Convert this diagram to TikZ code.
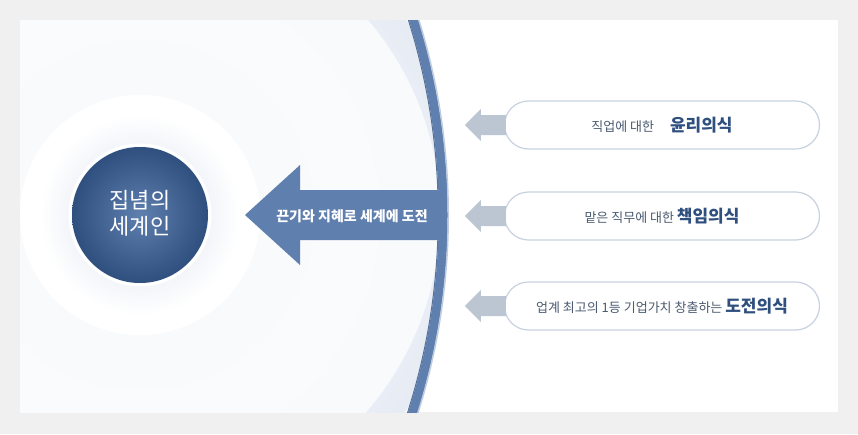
\documentclass[tikz,border=0pt]{standalone}
\usepackage{fontspec}
\setmainfont{Noto Sans CJK KR}
\usetikzlibrary{positioning}
\definecolor{navy}{HTML}{2F4F7F}
\definecolor{ringblue}{HTML}{C9D4E6}
\definecolor{arcblue}{HTML}{5F7FAE}
\definecolor{pillline}{HTML}{C8D1E0}
\definecolor{grayarrow}{HTML}{BCC5D2}
\definecolor{txtgray}{HTML}{4A5A70}
\newcommand{\keyword}[1]{{\fontsize{17}{19}\selectfont\bfseries\color{navy}#1}}
\tikzset{
  pill/.style={draw=pillline, line width=1.2pt, rounded corners=24pt, fill=white,
    minimum width=315pt, minimum height=48pt, text=txtgray, font=\fontsize{13}{15}\selectfont}
}
\begin{document}
\begin{tikzpicture}[x=1pt,y=-1pt]
  \useasboundingbox (0,0) rectangle (858,434);
  \fill[gray!12] (0,0) rectangle (858,434);
  \fill[white] (20,20) rectangle (838,412);

  %rings left of the arc
  \begin{scope}
    \clip (20,20) rectangle (838,412);
    \clip (-208.75,215) circle[radius=648];
    \shade[inner color=white, outer color=ringblue!45] (140,215) circle[radius=330];
    \foreach \r/\c in {300/5,240/8,175/11}{
      \fill[ringblue!\c!white, opacity=0.8] (140,215) circle[radius=\r];
    }
    \fill[white] (140,215) circle[radius=120];
  \end{scope}

  %arc
  \begin{scope}
    \clip (20,20) rectangle (838,412);
    \draw[arcblue, line width=9pt] (-208.75,215) circle[radius=652];
    \draw[arcblue!40, line width=1.5pt] (-208.75,215) circle[radius=657];
    \draw[navy!80, line width=1pt] (-208.75,215) circle[radius=647];
  \end{scope}

  %core circle
  \shade[inner color=ringblue!80, outer color=white] (140,215) circle[radius=100];
  \draw[white, line width=3pt] (140,215) circle[radius=70];
  \shade[inner color=arcblue, outer color=navy] (140,215) circle[radius=68];
  \node[text=white, align=center, font=\fontsize{22}{26}\selectfont] (core) at (140,213) {집념의\\세계인};

  %main arrow
  \fill[arcblue] (440,190) -- (300,190) -- (300,165) -- (245,215) -- (300,265) -- (300,240) -- (440,240) -- cycle;
  \node[text=white, font=\fontsize{14}{16}\selectfont\bfseries] (maintext) at (352,216) {끈기와 지혜로 세계에 도전};

  %pills
  \node[pill] (p1) at (662,125) {직업에 대한 \quad\keyword{윤리의식}};
  \node[pill] (p2) at (662,216) {맡은 직무에 대한 \keyword{책임의식}};
  \node[pill] (p3) at (662,306) {업계 최고의 1등 기업가치 창출하는 \keyword{도전의식}};
  \foreach \p in {p1,p2,p3}{
    \fill[grayarrow] ([xshift=2pt]\p.west) ++(0,-10) -- ++(-25,0) -- ++(0,-6) -- ++(-16,16)
      -- ++(16,16) -- ++(0,-6) -- ++(25,0) -- cycle;
  }
\end{tikzpicture}
\end{document}
